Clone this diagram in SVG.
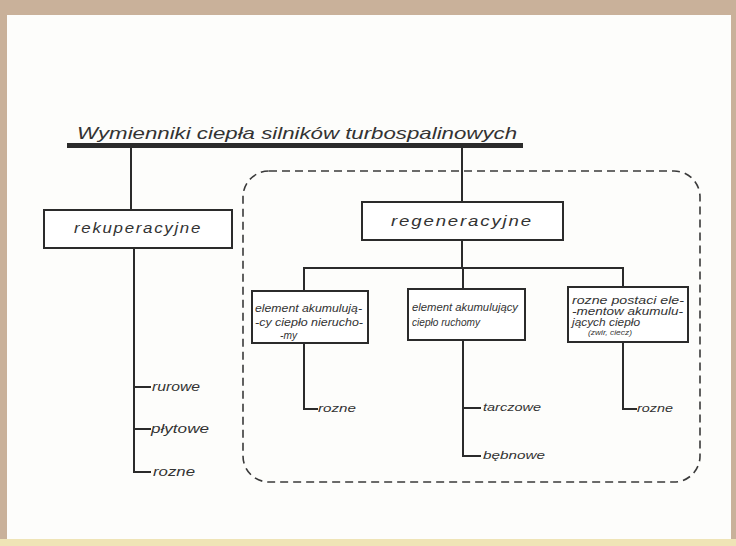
<svg xmlns="http://www.w3.org/2000/svg" width="736" height="546" viewBox="0 0 736 546">
<style>
.ln{stroke:#2b2b2b;stroke-width:2;fill:none;stroke-linecap:square}
.box{stroke:#2b2b2b;stroke-width:2;fill:#fff}
.t{font-family:"Liberation Sans",Arial,sans-serif;font-style:italic;fill:#333}
.lg{font-size:15px;letter-spacing:1.5px}
.md{font-size:12px}
.sm{font-size:10.5px}
.xs{font-size:8px}
</style>
<rect x="0" y="0" width="736" height="546" fill="#c9b19a"/>
<rect x="7" y="15" width="724" height="524" fill="#fdfdfb"/>
<rect x="0" y="539" width="736" height="7" fill="#efe4b6"/>

<g id="title">
<text class="t" x="77" y="139" font-size="17" textLength="440" lengthAdjust="spacingAndGlyphs">Wymienniki ciepła silników turbospalinowych</text>
<rect x="67" y="143" width="456" height="5" fill="#2b2b2b"/>
</g>

<g id="connectors">
<line class="ln" x1="131" y1="148" x2="131" y2="210"/>
<line class="ln" x1="462" y1="148" x2="462" y2="202"/>
<polyline class="ln" points="134,248 134,472 150,472"/>
<line class="ln" x1="134" y1="387" x2="150" y2="387"/>
<line class="ln" x1="134" y1="429" x2="150" y2="429"/>
<line class="ln" x1="462" y1="240" x2="462" y2="268"/>
<polyline class="ln" points="304,291 304,268 623,268 623,287"/>
<line class="ln" x1="463" y1="268" x2="463" y2="289"/>
<polyline class="ln" points="304,343 304,409 317,409"/>
<polyline class="ln" points="463,340 463,456 480,456"/>
<line class="ln" x1="463" y1="408" x2="480" y2="408"/>
<polyline class="ln" points="623,342 623,409 636,409"/>
</g>

<g id="group-regen">
<rect x="243" y="171" width="457" height="311" rx="26" ry="26" fill="none" stroke="#3a3a3a" stroke-width="1.6" stroke-dasharray="8 5"/>
</g>

<g id="rekuperacyjne">
<rect class="box" x="44" y="210" width="188" height="38"/>
<text class="t lg" x="138" y="233" text-anchor="middle" textLength="128" lengthAdjust="spacingAndGlyphs">rekuperacyjne</text>
</g>
<g id="regeneracyjne">
<rect class="box" x="362" y="202" width="201" height="38"/>
<text class="t lg" x="462" y="226" text-anchor="middle" textLength="142" lengthAdjust="spacingAndGlyphs">regeneracyjne</text>
</g>

<g id="box1">
<rect class="box" x="252" y="291" width="116" height="52"/>
<text class="t sm" x="255" y="312" textLength="107" lengthAdjust="spacingAndGlyphs">element akumulują-</text>
<text class="t sm" x="255" y="326" textLength="108" lengthAdjust="spacingAndGlyphs">-cy ciepło nierucho-</text>
<text class="t sm" x="280" y="339" textLength="17" lengthAdjust="spacingAndGlyphs">-my</text>
</g>
<g id="box2">
<rect class="box" x="408" y="289" width="117" height="51"/>
<text class="t sm" x="412" y="311" textLength="106" lengthAdjust="spacingAndGlyphs">element akumulujący</text>
<text class="t sm" x="412" y="326" textLength="68" lengthAdjust="spacingAndGlyphs">ciepło ruchomy</text>
</g>
<g id="box3">
<rect class="box" x="568" y="287" width="120" height="55"/>
<text class="t sm" x="572" y="304" textLength="112" lengthAdjust="spacingAndGlyphs">rozne postaci ele-</text>
<text class="t sm" x="572" y="315" textLength="111" lengthAdjust="spacingAndGlyphs">-mentow akumulu-</text>
<text class="t sm" x="572" y="326" textLength="68" lengthAdjust="spacingAndGlyphs">jących ciepło</text>
<text class="t xs" x="588" y="335" textLength="44" lengthAdjust="spacingAndGlyphs">(zwir, ciecz)</text>
</g>

<g id="leaf-rurowe"><text class="t md" x="152" y="391" textLength="48" lengthAdjust="spacingAndGlyphs">rurowe</text></g>
<g id="leaf-plytowe"><text class="t md" x="151" y="433" textLength="58" lengthAdjust="spacingAndGlyphs">płytowe</text></g>
<g id="leaf-rozne1"><text class="t md" x="153" y="476" textLength="42" lengthAdjust="spacingAndGlyphs">rozne</text></g>
<g id="leaf-rozne2"><text class="t sm" x="318" y="412" textLength="38" lengthAdjust="spacingAndGlyphs">rozne</text></g>
<g id="leaf-tarczowe"><text class="t sm" x="483" y="411" textLength="58" lengthAdjust="spacingAndGlyphs">tarczowe</text></g>
<g id="leaf-bebnowe"><text class="t sm" x="483" y="459" textLength="62" lengthAdjust="spacingAndGlyphs">bębnowe</text></g>
<g id="leaf-rozne3"><text class="t sm" x="637" y="412" textLength="36" lengthAdjust="spacingAndGlyphs">rozne</text></g>
</svg>
